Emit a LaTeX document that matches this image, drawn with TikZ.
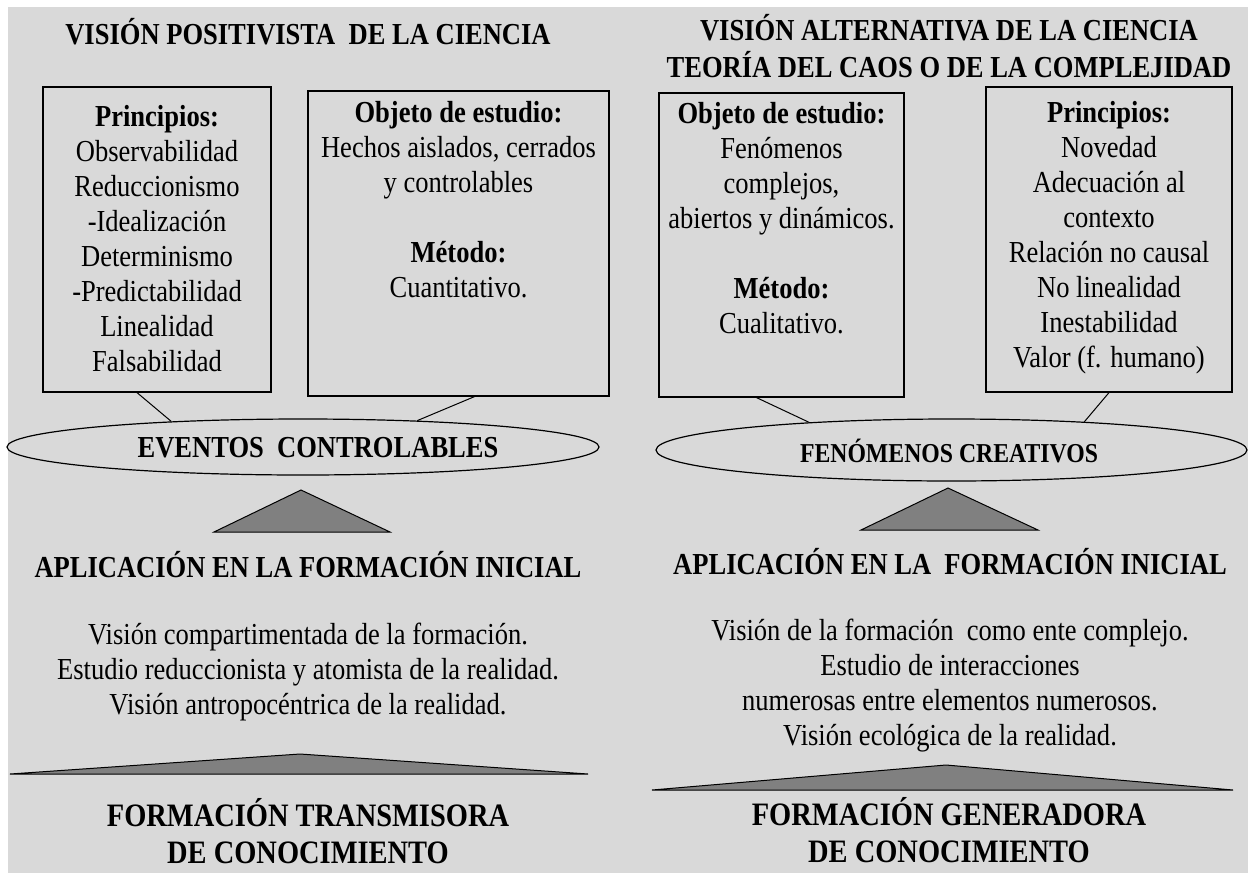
\documentclass[tikz,border=0pt]{standalone}
\usepackage{fontspec}
\setmainfont{Liberation Serif}[FakeStretch=0.87]
\usetikzlibrary{shapes.geometric}
\definecolor{fondo}{RGB}{217,217,217}
\definecolor{flecha}{RGB}{128,128,128}

\begin{document}
\begin{tikzpicture}[x=1pt,y=-1pt,
  caja/.style={draw, line width=1.2pt, inner sep=0pt},
  texto/.style={align=center, inner sep=0pt, font=\fontsize{30.5}{35}\selectfont},
  titulo/.style={align=center, inner sep=0pt, font=\fontsize{30.5}{37}\selectfont\bfseries},
  evento/.style={ellipse, draw, line width=1.2pt, inner sep=0pt},
  base/.style={draw=black, line width=1pt, fill=flecha}]
  \useasboundingbox (0,0) rectangle (1248,873);
  \fill[fondo] (8,7) rectangle (1248,873);

  \node[titulo] (tizq) at (308,32) {VISIÓN POSITIVISTA \ DE LA CIENCIA};
  \node[titulo] (tder) at (949,46) {VISIÓN ALTERNATIVA DE LA CIENCIA\\ TEORÍA DEL CAOS O DE LA COMPLEJIDAD};

  \node[caja, minimum width=228, minimum height=305] (prinL) at (157,239.5) {};
  \node[caja, minimum width=301, minimum height=305] (objL) at (458.5,243.5) {};
  \node[caja, minimum width=245, minimum height=304] (objR) at (781.5,245) {};
  \node[caja, minimum width=246, minimum height=305] (prinR) at (1109,239.5) {};

  \node[texto, anchor=north] at ([yshift=-19]prinL.north) {\textbf{Principios:}\\ Observabilidad\\ Reduccionismo\\ -Idealización\\ Determinismo\\ -Predictabilidad\\ Linealidad\\ Falsabilidad};
  \node[texto, anchor=north] at ([yshift=-11]objL.north) {\textbf{Objeto de estudio:}\\ Hechos aislados, cerrados\\ y controlables\\[35pt] \textbf{Método:}\\ Cuantitativo.};
  \node[texto, anchor=north] at ([yshift=-10]objR.north) {\textbf{Objeto de estudio:}\\ Fenómenos\\ complejos,\\ abiertos y dinámicos.\\[35pt] \textbf{Método:}\\ Cualitativo.};
  \node[texto, anchor=north] at ([yshift=-15]prinR.north) {\textbf{Principios:}\\ Novedad\\ Adecuación al\\ contexto\\ Relación no causal\\ No linealidad\\ Inestabilidad\\ Valor (f. humano)};

  \node[evento, minimum width=592, minimum height=56] (ev) at (303,447) {};
  \node[titulo] at (318,448) {EVENTOS \ CONTROLABLES};
  \node[evento, minimum width=591, minimum height=62] (fc) at (951.5,450) {};
  \node[titulo, font=\fontsize{27.3}{30}\selectfont\bfseries] at (949,451) {FENÓMENOS CREATIVOS};

  \draw[line width=1pt] ([xshift=-20]prinL.south) -- (ev.169);
  \draw[line width=1pt] ([xshift=16]objL.south) -- (ev.13);
  \draw[line width=1pt] ([xshift=-25]objR.south) -- (fc.169);
  \draw[line width=1pt] (prinR.south) -- (fc.12.5);

  \filldraw[base] (214,532) -- (301,490) -- (390,532) -- cycle;
  \filldraw[base] (861,530) -- (948,488) -- (1038,530) -- cycle;

  \node[titulo] at (308,565) {APLICACIÓN EN LA FORMACIÓN INICIAL};
  \node[titulo] at (950,562) {APLICACIÓN EN LA \ FORMACIÓN INICIAL};

  \node[texto] at (308,672) {Visión compartimentada de la formación.\\ Estudio reduccionista y atomista de la realidad.\\ Visión antropocéntrica de la realidad.};
  \node[texto] at (950,686) {Visión de la formación \ como ente complejo.\\ Estudio de interacciones\\ numerosas entre elementos numerosos.\\ Visión ecológica de la realidad.};

  \filldraw[base] (10,774) -- (300,754) -- (588,774) -- cycle;
  \filldraw[base] (652,790) -- (946,765) -- (1233,790) -- cycle;

  \node[titulo, font=\fontsize{32.7}{37.5}\selectfont\bfseries] at (308,831) {FORMACIÓN TRANSMISORA\\ DE CONOCIMIENTO};
  \node[titulo, font=\fontsize{32.7}{37.5}\selectfont\bfseries] at (949,830) {FORMACIÓN GENERADORA\\ DE CONOCIMIENTO};
\end{tikzpicture}
\end{document}
